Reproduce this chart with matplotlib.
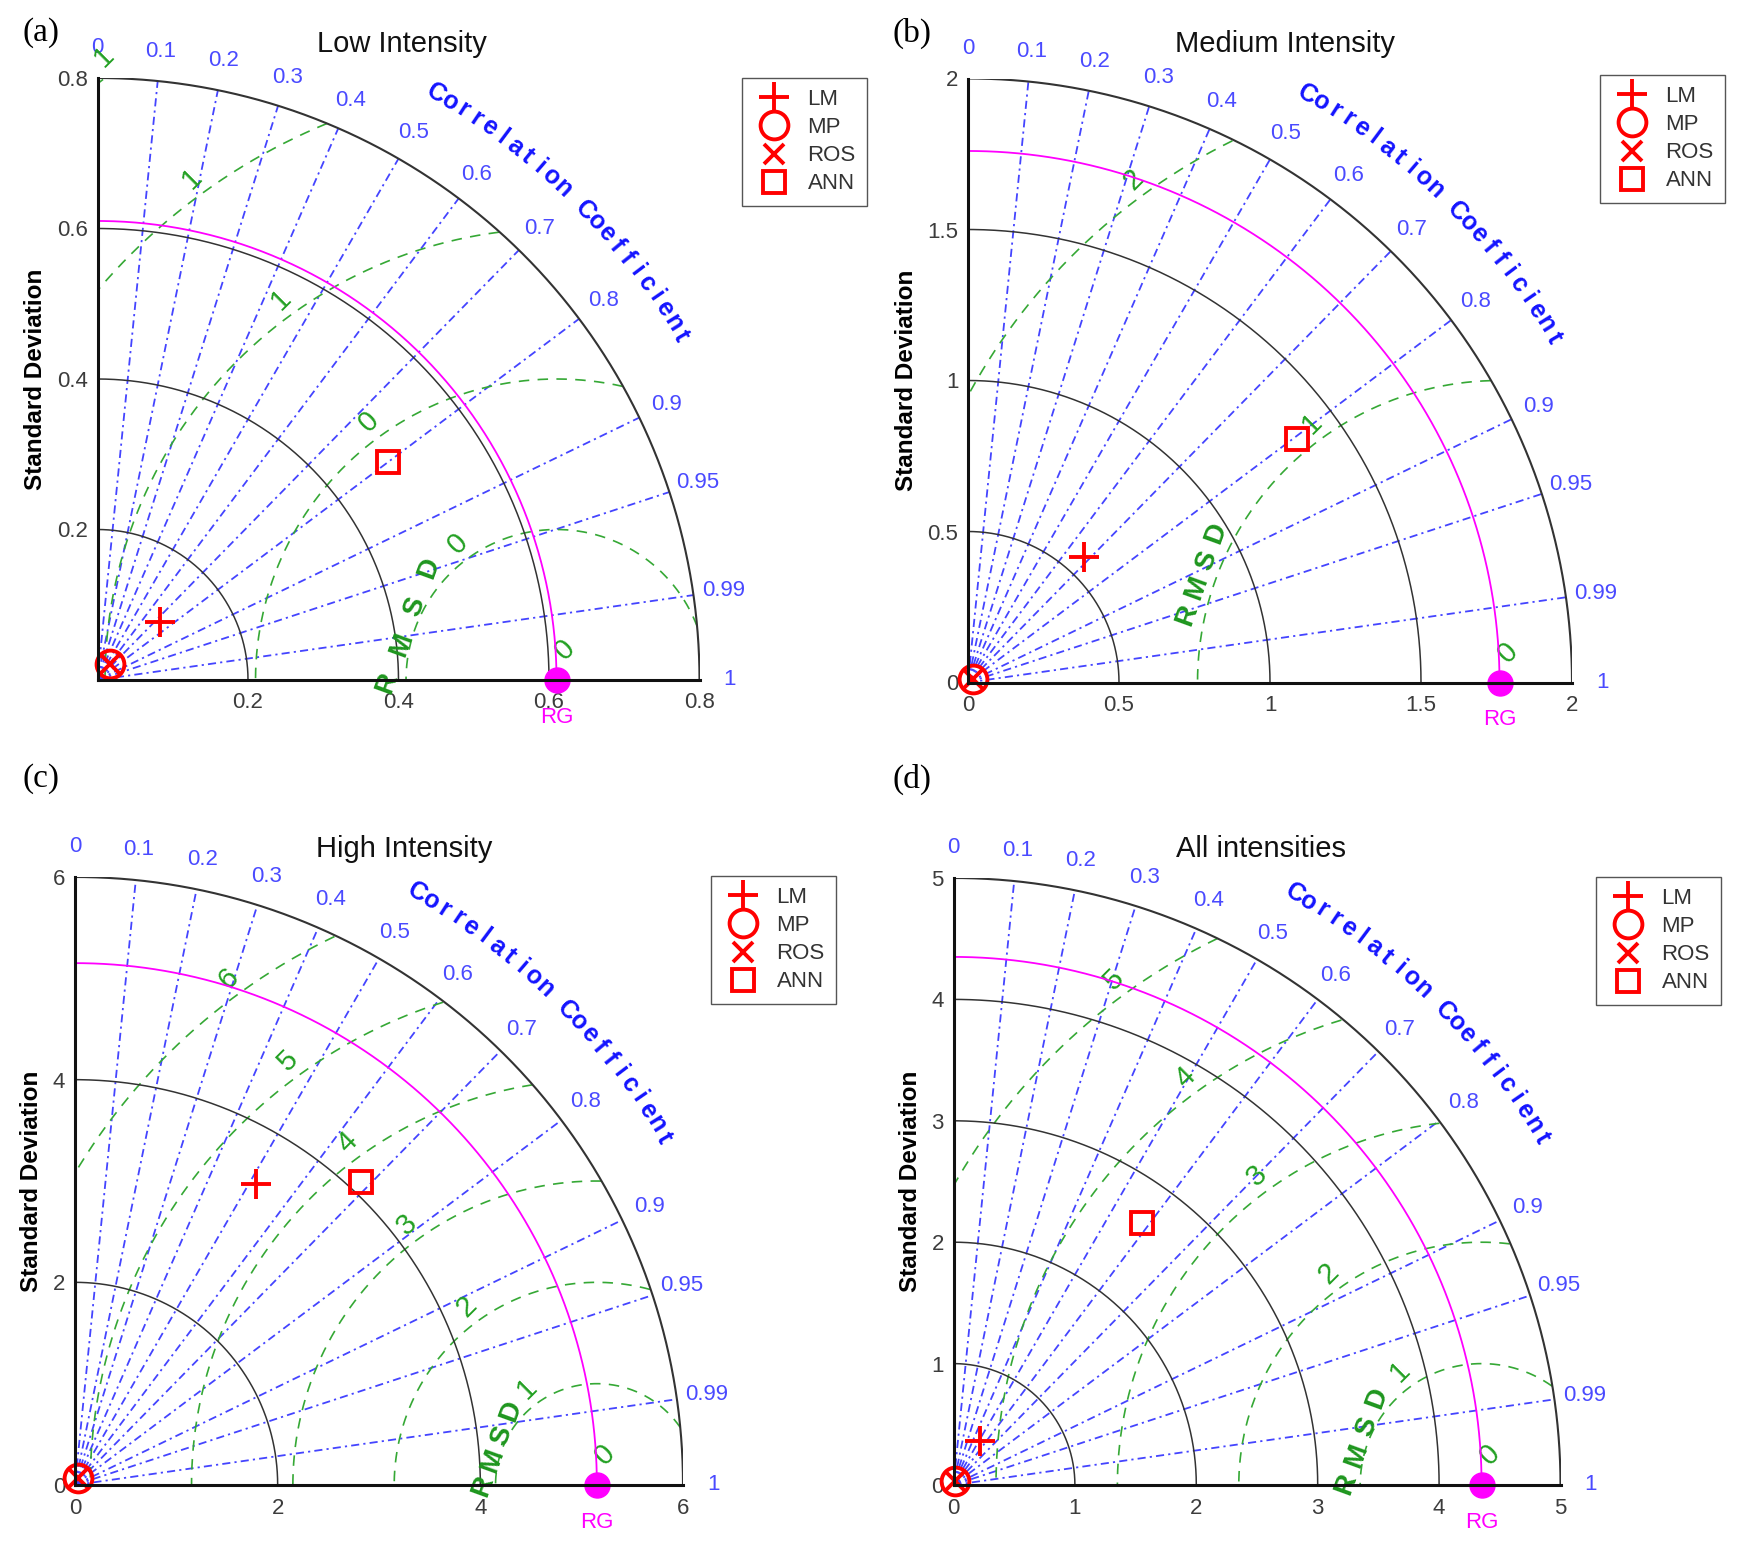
import numpy as np
import matplotlib
matplotlib.use('Agg')
import matplotlib.pyplot as plt
from matplotlib.lines import Line2D

plt.rcParams['font.family'] = ['Liberation Sans', 'DejaVu Sans']

# ---- data ----
panel_tags = ['(a)', '(b)', '(c)', '(d)']
titles = ['Low Intensity', 'Medium Intensity', 'High Intensity', 'All intensities']
model_names = ['LM', 'MP', 'ROS', 'ANN']

ref_std = [0.61, 1.76, 5.15, 4.35]          # RG (reference)
std_max = [0.8, 2, 6, 5]
std_ticks = [[0.2, 0.4, 0.6, 0.8],
             [0, 0.5, 1, 1.5, 2],
             [0, 2, 4, 6],
             [0, 1, 2, 3, 4, 5]]
std_tick_labels = [['0.2', '0.4', '0.6', '0.8'],
                   ['0', '0.5', '1', '1.5', '2'],
                   ['0', '2', '4', '6'],
                   ['0', '1', '2', '3', '4', '5']]
rmsd_ticks = [[0.2, 0.4, 0.6, 0.8, 1.0],
              [1, 2],
              [1, 2, 3, 4, 5, 6],
              [1, 2, 3, 4, 5]]
corr_ticks = [0, 0.1, 0.2, 0.3, 0.4, 0.5, 0.6, 0.7, 0.8, 0.9, 0.95, 0.99, 1]
corr_labels = ['0', '0.1', '0.2', '0.3', '0.4', '0.5', '0.6', '0.7', '0.8',
               '0.9', '0.95', '0.99', '1']

lm_std = [0.114, 0.565, 3.47, 0.42]
lm_corr = [0.733, 0.68, 0.516, 0.52]
mp_std = [0.027, 0.022, 0.079, 0.036]
mp_corr = [0.6, 0.81, 0.41, 0.39]
ros_std = [0.027, 0.022, 0.079, 0.036]
ros_corr = [0.6, 0.81, 0.41, 0.39]
ann_std = [0.483, 1.356, 4.11, 2.66]
ann_corr = [0.80, 0.804, 0.686, 0.585]

# ---- layout / style ----
W, H = 1737, 1549
axes_px = [(97.5, 680, 602), (968, 682.5, 604), (75, 1485, 608), (953.5, 1485, 607)]
legend_px = [(742, 78), (1600, 75), (711, 876), (1596, 877)]
title_px = [(401.5, 44), (1285, 44), (403.7, 849), (1261, 849)]
tag_px = [(41, 33), (912, 33), (41, 779), (912, 779)]
rmsd_spacing = [0.068, 0.048, 0.044, 0.05]
rmsd_word = ['R M S D', 'R M S D', 'RMSD', 'R M S D']

BLUE_LINE = '#4444ff'
BLUE_TXT = '#4a4aff'
GREEN_LINE = '#35a835'
GREEN_TXT = '#22a022'
MAGENTA = '#ff00ff'
RED = '#ff0000'
GRAY = '#333333'

markers = ['+', 'o', 'x', 's']
msizes = [22, 20, 15, 16]

fig = plt.figure(figsize=(W / 100, H / 100), dpi=100)


def draw_panel(ax, k):
    smax = std_max[k]
    ref = ref_std[k]
    ax.set_xlim(0, smax)
    ax.set_ylim(0, smax)

    th = np.linspace(0, np.pi / 2, 400)
    # std dev arcs
    for s in std_ticks[k]:
        if 0 < s < smax:
            ax.plot(s * np.cos(th), s * np.sin(th), color=GRAY, lw=1.1, zorder=2)
    ax.plot(smax * np.cos(th), smax * np.sin(th), color=GRAY, lw=1.5, zorder=2)

    # correlation rays and labels
    for c, lab in zip(corr_ticks, corr_labels):
        a = np.arccos(c)
        if 0 < c < 1:
            ax.plot([0, smax * np.cos(a)], [0, smax * np.sin(a)], color=BLUE_LINE,
                    lw=1.3, dashes=(4.5, 2.3, 1.2, 2.3), zorder=1)
        ax.text(1.05 * smax * np.cos(a), 1.05 * smax * np.sin(a), lab, color=BLUE_TXT,
                fontsize=16, ha='center', va='center', clip_on=False)

    title = 'Correlation Coefficient'
    angs = np.radians(np.linspace(60, 30.5, len(title)))
    for ch, a in zip(title, angs):
        ax.text(1.125 * smax * np.cos(a), 1.125 * smax * np.sin(a), ch, color='#1414ff',
                fontsize=18, fontweight='bold', rotation=np.degrees(a) - 90,
                ha='center', va='center', clip_on=False)

    # RMSD arcs and labels
    phi = np.linspace(0, np.pi, 800)
    lab_ang = np.radians(126)
    for r in rmsd_ticks[k]:
        x = ref + r * np.cos(phi)
        y = r * np.sin(phi)
        keep = (x >= 0) & (x ** 2 + y ** 2 <= smax ** 2)
        x = np.where(keep, x, np.nan)
        y = np.where(keep, y, np.nan)
        ax.plot(x, y, color=GREEN_LINE, lw=1.2, dashes=(6.3, 5), zorder=1)
        d = r + 0.03 * smax
        ax.text(ref + d * np.cos(lab_ang), d * np.sin(lab_ang), '{:.0f}'.format(r),
                color=GREEN_TXT, fontsize=21, rotation=45, ha='center', va='center',
                clip_on=False)
    ax.text(ref + 0.014 * smax, 0.05 * smax, '0', color=GREEN_TXT, fontsize=21,
            rotation=45, ha='center', va='center', clip_on=False)

    # "RMSD" letters along a slanted line
    r0 = rmsd_ticks[k][0]
    ca, sa = np.cos(np.radians(160)), np.sin(np.radians(160))
    cx, cy = ref + 1.05 * r0 * ca, 1.05 * r0 * sa
    letters = rmsd_word[k].replace(' ', '')
    ux, uy = np.cos(np.radians(70)), np.sin(np.radians(70))
    step = rmsd_spacing[k] * smax
    for i, ch in enumerate(letters):
        off = (i - 1.5) * step
        ax.text(cx + off * ux, cy + off * uy, ch, color='#1e961e', fontsize=20,
                fontweight='bold', rotation=70, ha='center', va='center', clip_on=False)

    # reference arc and point
    ax.plot(ref * np.cos(th), ref * np.sin(th), color=MAGENTA, lw=1.3, zorder=3)
    ax.plot([ref], [0], 'o', color=MAGENTA, ms=18, clip_on=False, zorder=6)
    ax.text(ref, -0.062 * smax, 'RG', color=MAGENTA, fontsize=16, ha='center',
            va='center', clip_on=False)

    # models
    stds = [lm_std[k], mp_std[k], ros_std[k], ann_std[k]]
    cors = [lm_corr[k], mp_corr[k], ros_corr[k], ann_corr[k]]
    handles = []
    for name, s, c, m, ms in zip(model_names, stds, cors, markers, msizes):
        a = np.arccos(c)
        ax.plot([s * np.cos(a)], [s * np.sin(a)], ls='none', marker=m, ms=ms,
                mew=2.8, mfc='none', mec=RED, clip_on=False, zorder=7)
        handles.append(Line2D([], [], ls='none', marker=m, ms=ms, mew=2.8,
                              mfc='none', mec=RED, label=name))

    lx, ly = legend_px[k]
    leg = ax.legend(handles=handles, loc='upper left',
                    bbox_to_anchor=(lx / W, 1 - ly / H), bbox_transform=fig.transFigure,
                    borderaxespad=0, fontsize=16, labelspacing=0.32,
                    handlelength=1.9, handletextpad=0.55, borderpad=0.5,
                    fancybox=False, framealpha=1, edgecolor='#555555')
    leg.get_frame().set_linewidth(1.0)
    for t in leg.get_texts():
        t.set_color(GRAY)

    # axes cosmetics
    for side in ['top', 'right']:
        ax.spines[side].set_visible(False)
    for side in ['left', 'bottom']:
        ax.spines[side].set_linewidth(2.2)
        ax.spines[side].set_color('#111111')
        ax.spines[side].set_zorder(8)
    ax.set_xticks(std_ticks[k])
    ax.set_xticklabels(std_tick_labels[k])
    ax.set_yticks(std_ticks[k])
    ax.set_yticklabels(std_tick_labels[k])
    ax.tick_params(axis='both', length=0, labelsize=16, colors='#3c3c3c')
    ax.tick_params(axis='x', pad=9)
    ax.tick_params(axis='y', pad=7)
    ax.set_ylabel('Standard Deviation', fontsize=17.5, fontweight='bold', labelpad=7)

    tx, ty = title_px[k]
    fig.text(tx / W, 1 - ty / H, titles[k], fontsize=21, ha='center', va='center',
             color='#111111')
    gx, gy = tag_px[k]
    fig.text(gx / W, 1 - gy / H, panel_tags[k], fontsize=24, ha='center', va='center',
             family='Liberation Serif')


for k in range(4):
    left, bottom, size = axes_px[k]
    ax = fig.add_axes([left / W, (H - bottom) / H, size / W, size / H])
    draw_panel(ax, k)

fig.savefig('out.png', dpi=100)
